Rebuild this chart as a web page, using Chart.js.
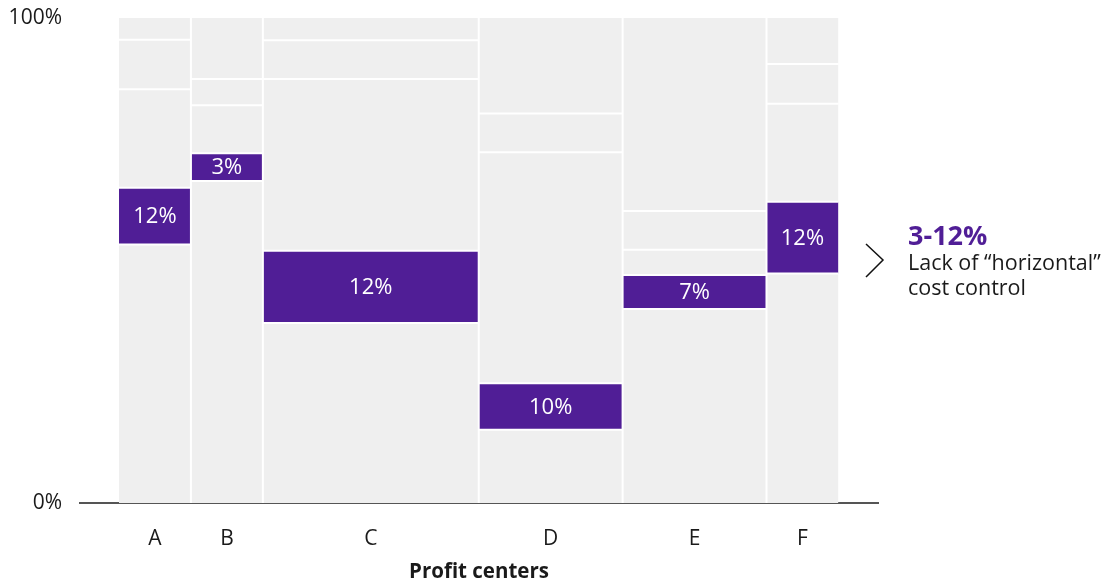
<!DOCTYPE html>
<html>
<head>
<meta charset="utf-8">
<script src="https://cdn.jsdelivr.net/npm/chart.js@4"></script>
<style>
  html, body { margin: 0; padding: 0; background: #fff; }
  #wrap { width: 1107px; height: 584px; }
</style>
</head>
<body>
<div id="wrap"><canvas id="myChart"></canvas></div>
<script>
// profit centers and their share of the width (%)
const columns = ["A", "B", "C", "D", "E", "F"];
const columnWidths = [10, 10, 30, 20, 20, 10];

// highlighted block (purple) bounds, in % of the column height
const highlightLow = [53.3, 66.4, 37.1, 15.1, 40.0, 47.3];
const highlightHigh = [65.0, 72.1, 52.0, 24.7, 47.0, 62.1];
const highlightLabels = ["12%", "3%", "12%", "10%", "7%", "12%"];

// grey blocks above the highlight
const upperBreak1 = [85.3, 82.0, 87.4, 72.3, 52.2, 82.3];
const upperBreak2 = [95.5, 87.4, 95.4, 80.3, 60.2, 90.5];

const yTicks = [0, 100];
const noteTitle = "3-12%";
const noteLines = ["Lack of \u201chorizontal\u201d", "cost control"];

const PURPLE = "#501e96";
const GREY = "#efefef";
const FONT = "'Open Sans', 'Noto Sans', sans-serif";

// column start positions
const starts = [];
let acc = 0;
columnWidths.forEach((w) => { starts.push(acc); acc += w; });
const centers = starts.map((s, i) => s + columnWidths[i] / 2);

function block(x0, x1, lo, hi, color) {
  return {
    data: [{ x: x0, y: hi }, { x: x1, y: hi }],
    fill: { value: lo },
    backgroundColor: color,
    borderColor: "#fff",
    borderWidth: hi < 100 ? 2 : 0,
    pointRadius: 0,
    pointHoverRadius: 0,
  };
}

const datasets = [];
columns.forEach((c, i) => {
  const x0 = starts[i];
  const x1 = x0 + columnWidths[i];
  const bounds = [0, highlightLow[i], highlightHigh[i], upperBreak1[i], upperBreak2[i], 100];
  for (let k = 0; k < bounds.length - 1; k++) {
    datasets.push(block(x0, x1, bounds[k], bounds[k + 1], k === 1 ? PURPLE : GREY));
  }
});
// white gaps between columns
starts.slice(1).forEach((s) => {
  datasets.push({
    data: [{ x: s, y: 0 }, { x: s, y: 100 }],
    fill: false,
    borderColor: "#fff",
    borderWidth: 2,
    pointRadius: 0,
    pointHoverRadius: 0,
  });
});

// labels inside purple blocks
const blockLabels = {
  id: "blockLabels",
  afterDatasetsDraw(chart) {
    const { ctx, scales } = chart;
    ctx.save();
    ctx.fillStyle = "#fff";
    ctx.font = "22px " + FONT;
    ctx.textAlign = "center";
    ctx.textBaseline = "middle";
    columns.forEach((c, i) => {
      const x = scales.x.getPixelForValue(centers[i]);
      const y = scales.y.getPixelForValue((highlightLow[i] + highlightHigh[i]) / 2);
      ctx.fillText(highlightLabels[i], x, y + 1);
    });
    ctx.restore();
  },
};

// annotation on the right
const sideNote = {
  id: "sideNote",
  afterDraw(chart) {
    const { ctx, chartArea } = chart;
    const x = chartArea.right + 30;
    ctx.save();
    ctx.strokeStyle = "#111";
    ctx.lineWidth = 1.5;
    ctx.beginPath();
    ctx.moveTo(chartArea.right - 12, 244);
    ctx.lineTo(chartArea.right + 5, 260);
    ctx.lineTo(chartArea.right - 12, 277);
    ctx.stroke();

    ctx.textAlign = "left";
    ctx.textBaseline = "alphabetic";
    ctx.fillStyle = PURPLE;
    ctx.font = "bold 27px " + FONT;
    ctx.fillText(noteTitle, x, 245);
    ctx.fillStyle = "#1a1a1a";
    ctx.font = "21.5px " + FONT;
    ctx.fillText(noteLines[0], x, 270);
    ctx.fillText(noteLines[1], x, 295);
    ctx.restore();
  },
};

new Chart(document.getElementById("myChart"), {
  type: "line",
  data: { datasets: datasets },
  options: {
    responsive: true,
    maintainAspectRatio: false,
    animation: false,
    events: [],
    layout: { padding: { top: 18, right: 229, left: 0, bottom: 0 } },
    plugins: {
      legend: { display: false },
      tooltip: { enabled: false },
      filler: { drawTime: "beforeDatasetsDraw" },
    },
    scales: {
      x: {
        type: "linear",
        min: -5.42,
        max: 105.5,
        z: 1,
        grid: { display: false, drawTicks: false },
        border: { display: true, color: "#555", width: 2 },
        afterBuildTicks: (scale) => {
          scale.ticks = centers.map((v) => ({ value: v }));
        },
        afterFit: (scale) => {
          scale.height = 81;
          scale.paddingLeft = 0;
          scale.paddingRight = 0;
        },
        ticks: {
          autoSkip: false,
          maxRotation: 0,
          padding: 23,
          color: "#1a1a1a",
          font: { family: FONT, size: 21 },
          callback: (v, i) => columns[i],
        },
        title: {
          display: true,
          text: "Profit centers",
          color: "#1a1a1a",
          padding: 0,
          font: { family: FONT, size: 20.5, weight: "bold" },
        },
      },
      y: {
        min: 0,
        max: 100,
        grid: { display: false, drawTicks: false },
        border: { display: false },
        afterBuildTicks: (scale) => {
          scale.ticks = yTicks.map((v) => ({ value: v }));
        },
        afterFit: (scale) => {
          scale.width = 80;
          scale.paddingTop = 0;
          scale.paddingBottom = 0;
        },
        ticks: {
          padding: 18,
          color: "#1a1a1a",
          font: { family: FONT, size: 21 },
          callback: (v) => v + "%",
        },
      },
    },
  },
  plugins: [blockLabels, sideNote],
});
</script>
</body>
</html>
